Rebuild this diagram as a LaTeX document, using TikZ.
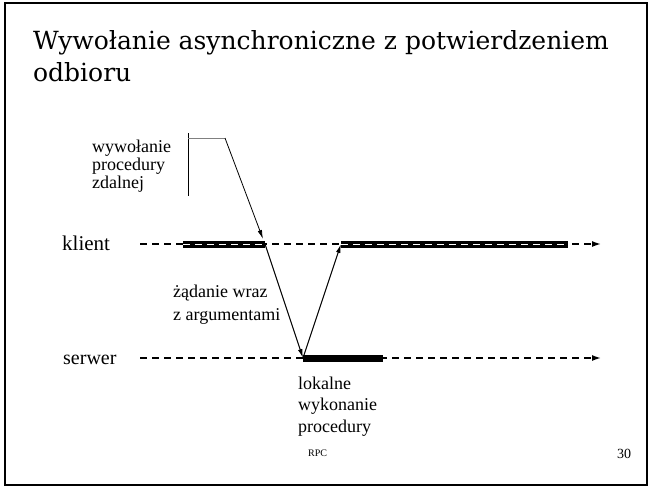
\documentclass[tikz,border=0pt]{standalone}
\usepackage{fontspec}
\setmainfont{Liberation Serif}
\newfontfamily\titlefont{DejaVu Serif}
\usetikzlibrary{arrows.meta}
\tikzset{
  lbl/.style={anchor=base west, inner sep=0pt, font=\fontsize{18}{22}\selectfont},
  annot/.style={anchor=base west, inner sep=0pt, font=\fontsize{18}{20}\selectfont},
  timeline/.style={line width=1.5pt, dash pattern=on 7pt off 5pt, -{Latex[length=9pt,width=6pt]}},
  bar/.style={line width=7pt},
  whitedash/.style={white, line width=1pt, dash pattern=on 7pt off 5pt},
  msg/.style={line width=1pt, -{Latex[length=9pt,width=4.5pt]}},
}
\begin{document}
\begin{tikzpicture}[x=1pt,y=-1pt]
\useasboundingbox (0,0) rectangle (651,488);
\draw[line width=2pt] (5,3) rectangle (647,485);
% title
\node[anchor=base west, inner sep=0pt, font=\titlefont\fontsize{25}{30}\selectfont] (t1) at (33,49) {Wywołanie asynchroniczne z potwierdzeniem};
\node[anchor=base west, inner sep=0pt, font=\titlefont\fontsize{25}{30}\selectfont] (t2) at (33,81) {odbioru};
% coordinates
\coordinate (kstart) at (140,244);
\coordinate (kend) at (601,244);
\coordinate (sstart) at (140,358);
\coordinate (send) at (601,358);
\coordinate (b1s) at (183,244);
\coordinate (b1e) at (265,244);
\coordinate (b2s) at (341,244);
\coordinate (b2e) at (568,244);
\coordinate (b3s) at (303,358);
\coordinate (b3e) at (383,358);
% labels
\node[lbl, font=\fontsize{21}{24}\selectfont] (klient) at (62,250) {klient};
\node[lbl, font=\fontsize{20}{24}\selectfont] (serwer) at (63,364) {serwer};
% bars
\draw[bar] (b1s) -- (b1e);
\draw[bar] (b2s) -- (b2e);
\draw[bar] (b3s) -- (b3e);
% timelines
\draw[timeline] (kstart) -- (kend);
\draw[timeline] (sstart) -- (send);
\draw[whitedash] (b1s) -- (b1e);
\draw[whitedash] (b2s) -- (b2e);
% messages
\draw[msg] (b1e) -- (b3s);
\draw[msg] (b3s) -- (b2s);
% annotation
\coordinate (vtop) at (188,133);
\coordinate (vbot) at (188,196);
\coordinate (hend) at (225,138);
\coordinate (h0) at (188,138);
\coordinate (atip) at (263,239);
\draw[line width=1pt] (vtop) -- (vbot);
\draw[line width=1pt, gray] (h0) -- (hend);
\draw[line width=0.8pt, -{Latex[length=9pt,width=4.5pt]}] (hend) -- (atip);
\node[annot] (a1) at (92,152) {wywołanie};
\node[annot] (a2) at (92,170) {procedury};
\node[annot] (a3) at (92,188) {zdalnej};
% request label
\node[lbl] (r1) at (173,297) {żądanie wraz};
\node[lbl] (r2) at (173,320) {z argumentami};
% local execution
\node[lbl] (l1) at (298,389) {lokalne};
\node[lbl] (l2) at (298,410) {wykonanie};
\node[lbl] (l3) at (298,432) {procedury};
% footer
\node[anchor=base west, inner sep=0pt, font=\fontsize{10}{12}\selectfont] (rpc) at (308,456) {RPC};
\node[anchor=base west, inner sep=0pt, font=\fontsize{14}{16}\selectfont] (num) at (617,458) {30};
\end{tikzpicture}
\end{document}
